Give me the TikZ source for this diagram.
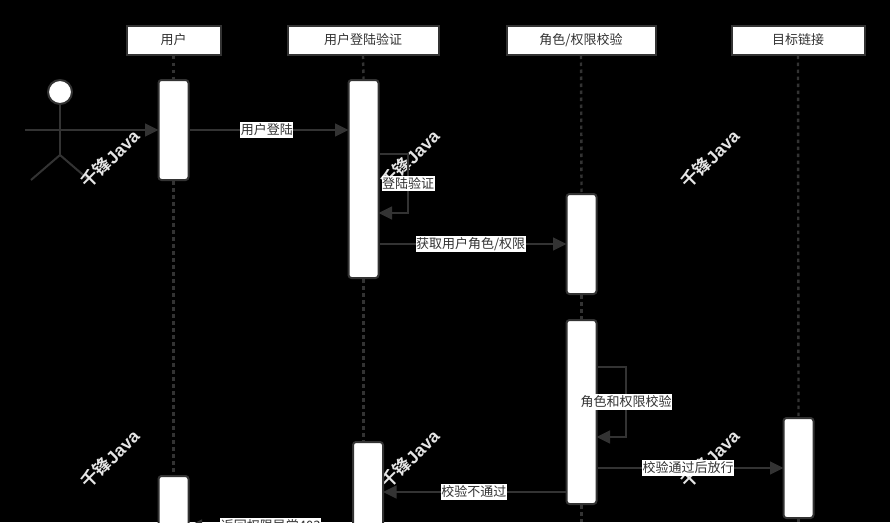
\documentclass[tikz,border=0pt]{standalone}
\usepackage{fontspec}
\setmainfont{Noto Sans CJK SC}
\newfontfamily\stampfont{Noto Sans CJK SC Bold}
\newfontfamily\javafont{Liberation Sans}
\usetikzlibrary{arrows.meta}
\definecolor{inkgrey}{HTML}{333333}
\newcommand{\stamptext}{{\stampfont 千锋}{\javafont\bfseries Java}}
\tikzset{
    head/.style={draw=inkgrey, fill=white, line width=2pt, minimum height=29pt, inner sep=0pt, text=inkgrey, font=\fontsize{13}{15}\selectfont},
    active/.style={draw=inkgrey, fill=white, line width=2pt, rounded corners=3pt, minimum width=30pt, inner sep=0pt},
    life/.style={draw=inkgrey, line width=2.4pt, dash pattern=on 3.5pt off 3.5pt},
    msg/.style={draw=inkgrey, line width=1.6pt, shorten >=-1pt, -{Triangle[length=13.5pt, width=13pt]}},
    limb/.style={draw=inkgrey, line width=2pt},
    tag/.style={fill=white, text=inkgrey, inner xsep=0.5pt, inner ysep=1.5pt, font=\fontsize{13}{15}\selectfont},
    stamp/.style={text=white!90!black, rotate=45, inner sep=0pt, font=\fontsize{17.5}{20}\selectfont},
}
\begin{document}
\begin{tikzpicture}[x=1pt, y=-1pt]
    \path[use as bounding box, fill=black] (0, 0) rectangle (890, 522);
    % nodes: actor
    \node[draw=inkgrey, fill=white, circle, line width=2pt, minimum size=24pt, inner sep=0pt] (face) at (60, 92) {};
    \coordinate (hip) at (60, 155);
    \coordinate (armL) at (25, 130);
    \coordinate (armR) at (95, 130);
    \coordinate (footL) at (31, 180);
    \coordinate (footR) at (89, 180);
    \draw[limb] (face) -- (hip);
    \draw[limb] (armL) -- (armR);
    \draw[limb] (footL) -- (hip) -- (footR);

    % nodes: watermark
    \node[stamp] (stamp1) at (110, 159) {\stamptext};
    \node[stamp] (stamp2) at (410, 159) {\stamptext};
    \node[stamp] (stamp3) at (710, 159) {\stamptext};
    \node[stamp] (stamp4) at (110, 459) {\stamptext};
    \node[stamp] (stamp5) at (410, 459) {\stamptext};
    \node[stamp] (stamp6) at (710, 459) {\stamptext};

    % nodes: headers
    \node[head, minimum width=94pt] (user) at (173.5, 40) {用户};
    \node[head, minimum width=151pt] (login) at (363, 40) {用户登陆验证};
    \node[head, minimum width=149pt] (role) at (581, 40) {角色/权限校验};
    \node[head, minimum width=133pt] (target) at (798, 40) {目标链接};

    % nodes: bars
    \node[active, minimum height=100pt] (user1) at (173.5, 130) {};
    \node[active, minimum height=100pt] (user2) at (173.5, 526) {};
    \node[active, minimum height=198pt] (login1) at (363.5, 179) {};
    \node[active, minimum height=160pt] (login2) at (368, 522) {};
    \node[active, minimum height=100pt] (role1) at (581.5, 244) {};
    \node[active, minimum height=184pt] (role2) at (581.5, 412) {};
    \node[active, minimum height=100pt] (target1) at (798.5, 468) {};

    % lifelines
    \coordinate (edge) at (0, 522);
    \draw[life] (user.south) -- (user1.north);
    \draw[life] (user1.south) -- (user2.north);
    \draw[life] (login.south) -- (login1.north);
    \draw[life] (login1.south) -- (login1.south |- login2.north);
    \draw[life] (role.south) -- (role1.north);
    \draw[life] (role1.south) -- (role2.north);
    \draw[life] (role2.south) -- (role2.south |- edge);
    \draw[life] (target.south) -- (target1.north);
    \draw[life] (target1.south) -- (target1.south |- edge);

    % levels of the messages
    \coordinate (levelA) at (0, 154);
    \coordinate (levelB) at (0, 213);
    \coordinate (levelC) at (0, 244);
    \coordinate (levelD) at (0, 367);
    \coordinate (levelE) at (0, 437);
    \coordinate (levelF) at (0, 468);
    \coordinate (levelG) at (0, 492);
    \coordinate (levelH) at (0, 526);
    \coordinate (loopA) at (408, 0);
    \coordinate (loopB) at (626, 0);

    % edges: actor-user, user-login
    \draw[msg] (armR) -- (user1.west);
    \draw[msg] (user1.east) -- node[tag, pos=0.49] (tag1) {用户登陆} (user1.east -| login1.west);
    % edges: login loop, login-role
    \draw[msg] (login1.east |- levelA) -- (loopA |- levelA) -- node[tag] (tag2) {登陆验证} (loopA |- levelB) -- (login1.east |- levelB);
    \draw[msg] (login1.east |- levelC) -- node[tag, pos=0.49] (tag3) {获取用户角色/权限} (role1.west |- levelC);
    % edges: role loop, role-target, role-login, login-user
    \draw[msg] (role2.east |- levelD) -- (loopB |- levelD) -- node[tag] (tag4) {角色和权限校验} (loopB |- levelE) -- (role2.east |- levelE);
    \draw[msg] (role2.east |- levelF) -- node[tag, pos=0.49] (tag5) {校验通过后放行} (target1.west |- levelF);
    \draw[msg] (role2.west |- levelG) -- node[tag, pos=0.505] (tag6) {校验不通过} (login2.east |- levelG);
    \draw[msg] (login2.west |- levelH) -- node[tag] (tag7) {返回权限异常403} (user2.east |- levelH);
\end{tikzpicture}
\end{document}
